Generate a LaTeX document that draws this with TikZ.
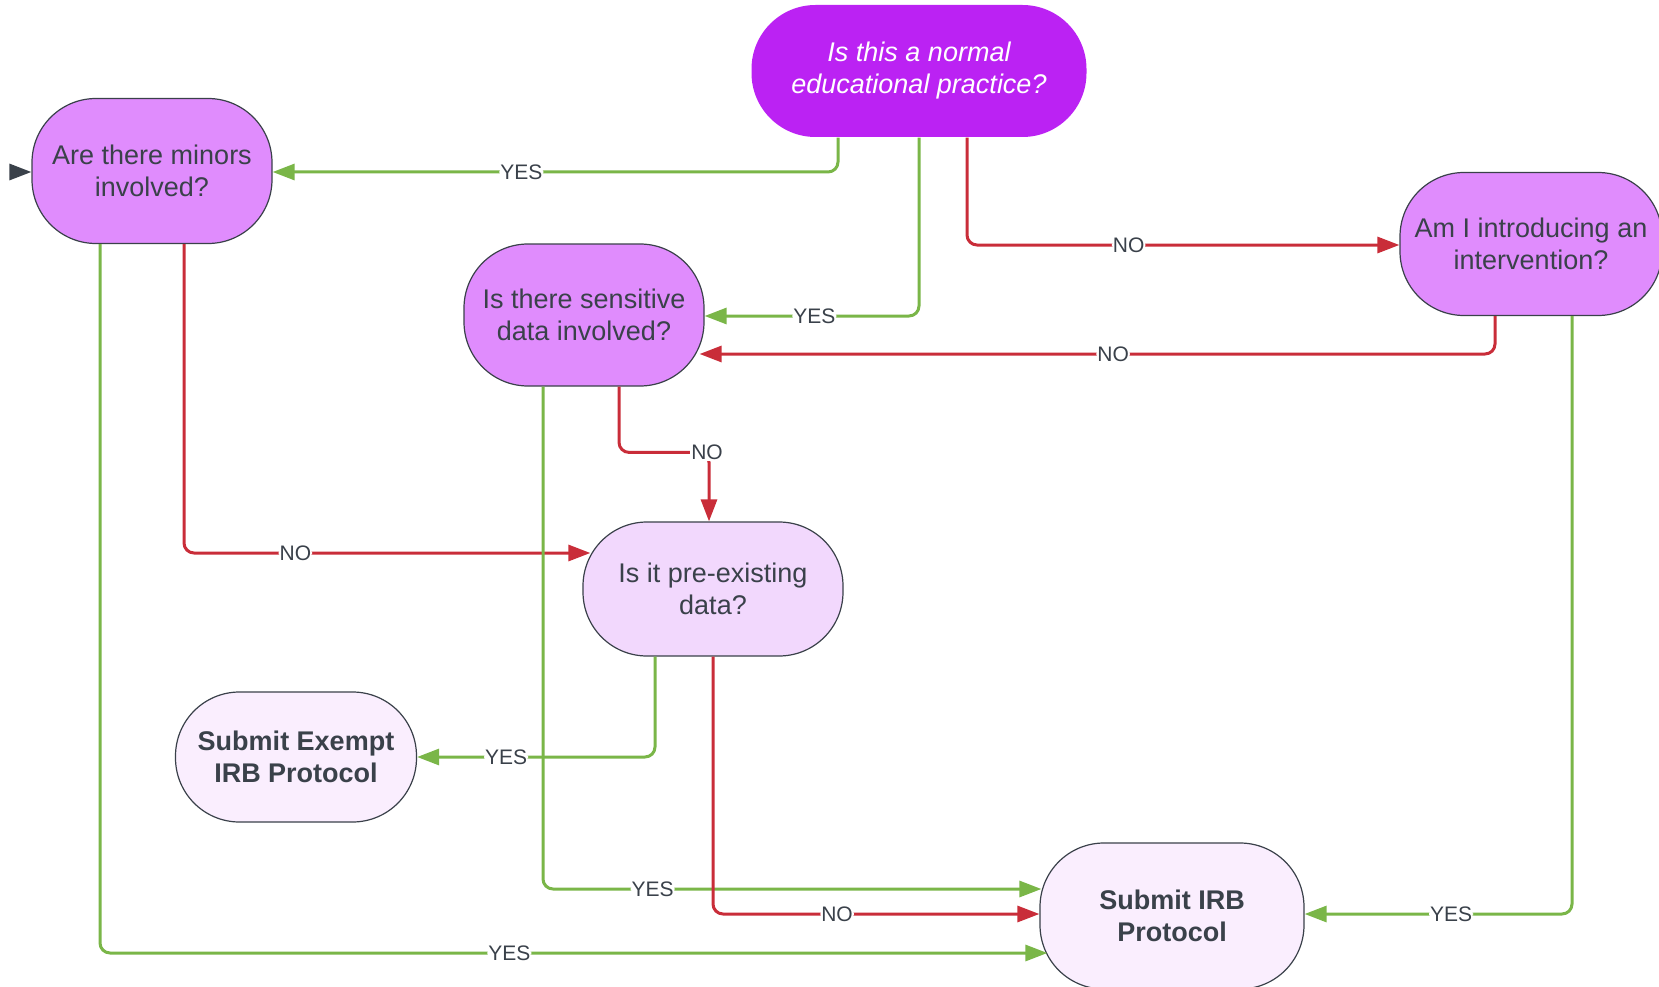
\documentclass[tikz,border=0pt]{standalone}
\usepackage{fontspec}
\setmainfont{Liberation Sans}
\usetikzlibrary{arrows.meta}
\definecolor{yesgreen}{HTML}{7AB648}
\definecolor{nored}{HTML}{C92D39}
\definecolor{txtgray}{HTML}{3A414A}
\definecolor{deepviolet}{HTML}{BB22F3}
\definecolor{midviolet}{HTML}{E08CFD}
\definecolor{paleviolet}{HTML}{F2D8FD}
\definecolor{faintviolet}{HTML}{FAEEFE}
\tikzset{
  askbox/.style={draw=txtgray, line width=1.2pt, rounded corners=64pt, inner sep=0pt,
    align=center, text=txtgray, font=\fontsize{27}{32}\selectfont},
  flow/.style={line width=3pt, rounded corners=10pt, -{Triangle[length=22pt,width=16pt]}},
  yesline/.style={flow, draw=yesgreen},
  noline/.style={flow, draw=nored},
  lbl/.style={fill=white, inner sep=1pt, text=txtgray, font=\fontsize{21}{24}\selectfont},
}
\begin{document}
\begin{tikzpicture}[x=1pt,y=-1pt]
    \useasboundingbox (0,0) rectangle (1659,987);
    \node[askbox, draw=none, fill=deepviolet, text=white, minimum width=335pt, minimum height=132pt,
      font=\fontsize{27}{32}\selectfont\itshape] (normal) at (919,71) {Is this a normal\\educational practice?};
    \node[askbox, fill=midviolet, minimum width=240pt, minimum height=145pt] (minors) at (152,171) {Are there minors\\involved?};
    \node[askbox, fill=midviolet, minimum width=240pt, minimum height=142pt] (sensitive) at (584,315) {Is there sensitive\\data involved?};
    \node[askbox, fill=midviolet, minimum width=262pt, minimum height=143pt] (intervention) at (1531,244) {Am I introducing an\\intervention?};
    \node[askbox, fill=paleviolet, minimum width=260pt, minimum height=134pt] (existing) at (713,589) {Is it pre-existing\\data?};
    \node[askbox, fill=faintviolet, minimum width=241pt, minimum height=130pt, font=\fontsize{27}{32}\selectfont\bfseries] (exempt) at (296,757) {Submit Exempt\\IRB Protocol};
    \node[askbox, fill=faintviolet, minimum width=264pt, minimum height=146pt, font=\fontsize{27}{32}\selectfont\bfseries] (submit) at (1172,916) {Submit IRB\\Protocol};

    \coordinate (entry) at (10,172);
    \draw[flow, draw=txtgray, fill=txtgray] (entry) -- ([yshift=-1pt]minors.west);

    \draw[yesline] ([xshift=-81pt]normal.south) |- node[lbl, pos=0.78] (yes1) {YES} ([yshift=-1pt]minors.east);
    \draw[yesline] (normal.south) |- node[lbl, pos=0.744] (yes2) {YES} ([yshift=-1pt]sensitive.east);
    \draw[noline] ([xshift=48pt]normal.south) |- node[lbl, pos=0.687] (no1) {NO} ([yshift=-1pt]intervention.west);
    \draw[noline] ([xshift=-36pt]intervention.south) |- node[lbl, pos=0.74] (no2) {NO} ([xshift=-5pt,yshift=-39pt]sensitive.east);
    \draw[yesline] ([xshift=41pt]intervention.south) |- node[lbl, pos=0.726] (yes3) {YES} ([yshift=2pt]submit.east);
    \draw[noline] ([xshift=32pt]minors.south) |- node[lbl, pos=0.637] (no3) {NO} ([xshift=8pt,yshift=36pt]existing.west);
    \draw[yesline] ([xshift=-52pt]minors.south) |- node[lbl, pos=0.716] (yes4) {YES} ([xshift=8pt,yshift=-37pt]submit.west);
    \draw[noline] ([xshift=35pt]sensitive.south) |- ([xshift=-4pt,yshift=69pt]existing.north) -- ([xshift=-4pt]existing.north);
    \node[lbl] (no4) at ([xshift=-6pt,yshift=69pt]existing.north) {NO};
    \draw[yesline] ([xshift=-41pt]sensitive.south) |- node[lbl, pos=0.61] (yes5) {YES} ([xshift=2pt,yshift=27pt]submit.west);
    \draw[yesline] ([xshift=-58pt]existing.south) |- node[lbl, pos=0.813] (yes6) {YES} (exempt.east);
    \draw[noline] (existing.south) |- node[lbl, pos=0.69] (no5) {NO} ([yshift=2pt]submit.west);
\end{tikzpicture}
\end{document}
